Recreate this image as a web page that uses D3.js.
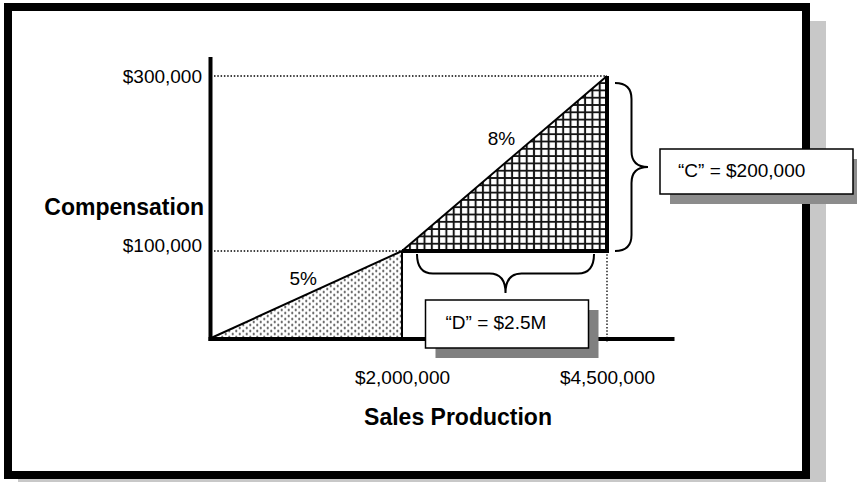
<!DOCTYPE html>
<html>
<head>
<meta charset="utf-8">
<script src="https://cdn.jsdelivr.net/npm/d3@7"></script>
<style>
  body { margin: 0; background: #fff; }
  svg { display: block; }
  text { font-family: "Liberation Sans", Arial, Helvetica, sans-serif; fill: #000; }
</style>
</head>
<body>
<svg id="chart" width="857" height="482"></svg>
<script>
// данные: уровни комиссии
const tierStarts = [0, 2000000];
const tierEnds = [2000000, 4500000];
const compAtStart = [0, 100000];
const compAtEnd = [100000, 300000];
const tierLabels = ["5%", "8%"];

const salesTicks = [2000000, 4500000];
const compTicks = [100000, 300000];
const annotations = ["\u201CC\u201D = $200,000", "\u201CD\u201D = $2.5M"];

const svg = d3.select("#chart");

// рамка с тенью
svg.append("rect").attr("x", 18).attr("y", 21).attr("width", 808).attr("height", 474)
   .attr("fill", "#c8c8c8");
svg.append("rect").attr("x", 8).attr("y", 7).attr("width", 798).attr("height", 468)
   .attr("fill", "#fff").attr("stroke", "#000").attr("stroke-width", 8);

// шкалы (ось X нелинейная, как на схеме)
const x = d3.scaleLinear()
    .domain([0, 2000000, 4500000, 5300000])
    .range([210, 402, 607, 672]);
const y = d3.scaleLinear()
    .domain([0, 320000])
    .range([338.5, 58.5]);

// узоры заливки
const defs = svg.append("defs");
const dots = defs.append("pattern").attr("id", "dots")
    .attr("width", 7).attr("height", 6).attr("patternUnits", "userSpaceOnUse")
    .attr("x", x(0)).attr("y", y(0));
dots.append("rect").attr("width", 7).attr("height", 6).attr("fill", "#fff");
dots.append("circle").attr("cx", 1.75).attr("cy", 1.5).attr("r", 1.1).attr("fill", "#333");
dots.append("circle").attr("cx", 5.25).attr("cy", 4.5).attr("r", 1.1).attr("fill", "#333");

const g = 7.3;
const grid = defs.append("pattern").attr("id", "grid")
    .attr("width", g).attr("height", g).attr("patternUnits", "userSpaceOnUse")
    .attr("x", x(4500000)).attr("y", y(100000));
grid.append("rect").attr("width", g).attr("height", g).attr("fill", "#fff");
grid.append("path").attr("d", `M0,0H${g}M0,0V${g}M0,${g}H${g}M${g},0V${g}`)
    .attr("stroke", "#151515").attr("stroke-width", 2);

// пунктирные линии
const dotted = svg.append("g").attr("stroke", "#000").attr("stroke-width", 1.3)
    .attr("stroke-dasharray", "1.5,1.8").attr("fill", "none");
compTicks.forEach((c, i) => {
    dotted.append("line")
        .attr("x1", x(0) + 4).attr("x2", x(tierEnds[i]))
        .attr("y1", y(c)).attr("y2", y(c));
});
dotted.append("line")
    .attr("x1", x(4500000)).attr("x2", x(4500000))
    .attr("y1", y(100000)).attr("y2", y(0) + 4);

// треугольники уровней
tierStarts.forEach((s, i) => {
    const p0 = [x(s), y(compAtStart[i])];
    const p1 = [x(tierEnds[i]), y(compAtEnd[i])];
    const p2 = [x(tierEnds[i]), y(compAtStart[i])];
    svg.append("path")
        .attr("d", `M${p0}L${p1}L${p2}Z`)
        .attr("fill", i === 0 ? "url(#dots)" : "url(#grid)");
    svg.append("line").attr("x1", p0[0]).attr("y1", p0[1]).attr("x2", p1[0]).attr("y2", p1[1])
        .attr("stroke", "#000").attr("stroke-width", 2);
    svg.append("line").attr("x1", p1[0]).attr("y1", p1[1]).attr("x2", p2[0]).attr("y2", p2[1] + (i === 0 ? 0 : 2))
        .attr("stroke", "#000").attr("stroke-width", i === 0 ? 2 : 4);
    if (i > 0) {
        svg.append("line").attr("x1", p0[0]).attr("y1", p0[1]).attr("x2", p2[0]).attr("y2", p2[1])
            .attr("stroke", "#000").attr("stroke-width", 4);
    }
    // подпись процента
    const mx = p0[0] + (p1[0] - p0[0]) * 0.485;
    const my = p0[1] + (p1[1] - p0[1]) * 0.485;
    svg.append("text")
        .attr("x", mx).attr("y", my - (i === 0 ? 11 : 21))
        .attr("text-anchor", "middle")
        .style("font-size", "19px")
        .text(tierLabels[i]);
});

// оси
const axX = svg.append("g")
    .attr("transform", `translate(0,${y(0)})`)
    .call(d3.axisBottom(x).tickValues(salesTicks).tickSize(0).tickSizeOuter(0)
        .tickPadding(32).tickFormat(d3.format("$,")));
const axY = svg.append("g")
    .attr("transform", `translate(${x(0)},0)`)
    .call(d3.axisLeft(y).tickValues(compTicks).tickSize(0).tickSizeOuter(0)
        .tickPadding(8).tickFormat(d3.format("$,")));
[axX, axY].forEach(ax => {
    ax.select(".domain").attr("stroke", "#000").attr("stroke-width", 4).attr("stroke-linecap", "square");
    ax.selectAll("text").style("font-size", "19px")
      .style("font-family", "'Liberation Sans', Arial, Helvetica, sans-serif");
});
axY.selectAll(".tick text").attr("dy", d => d === 100000 ? "0.05em" : "0.35em");

// заголовки осей
svg.append("text")
    .attr("x", 204).attr("y", 215)
    .attr("text-anchor", "end")
    .style("font-size", "23px").style("font-weight", "bold")
    .text("Compensation");
svg.append("text")
    .attr("x", 458).attr("y", 425)
    .attr("text-anchor", "middle")
    .style("font-size", "23px").style("font-weight", "bold")
    .text("Sales Production");

// фигурные скобки
function braceV(x0, y1, y2, depth, r) {
    const xm = x0 + depth / 2, xt = x0 + depth, ym = (y1 + y2) / 2;
    return `M${x0},${y1}Q${xm},${y1} ${xm},${y1 + r}L${xm},${ym - r}Q${xm},${ym} ${xt},${ym}` +
           `Q${xm},${ym} ${xm},${ym + r}L${xm},${y2 - r}Q${xm},${y2} ${x0},${y2}`;
}
function braceH(y0, x1, x2, depth, r) {
    const ym = y0 + depth / 2, yt = y0 + depth, xm = (x1 + x2) / 2;
    return `M${x1},${y0}Q${x1},${ym} ${x1 + r},${ym}L${xm - r},${ym}Q${xm},${ym} ${xm},${yt}` +
           `Q${xm},${ym} ${xm + r},${ym}L${x2 - r},${ym}Q${x2},${ym} ${x2},${y0}`;
}
const cx0 = x(4500000) + 8;
svg.append("path")
    .attr("d", braceV(cx0, y(300000) + 7, y(100000), 33, 16))
    .attr("fill", "none").attr("stroke", "#000").attr("stroke-width", 2);
const dy0 = y(100000) + 3;
svg.append("path")
    .attr("d", braceH(dy0, x(2000000) + 15, x(4500000) - 13, 39, 16))
    .attr("fill", "none").attr("stroke", "#000").attr("stroke-width", 2);

// поля с подписями
function box(bx, by, w, h, shade, label, tx, ty) {
    svg.append("rect").attr("x", bx + 10).attr("y", by + 10).attr("width", w).attr("height", h)
        .attr("fill", shade);
    svg.append("rect").attr("x", bx).attr("y", by).attr("width", w).attr("height", h)
        .attr("fill", "#fff").attr("stroke", "#000").attr("stroke-width", 1.5);
    svg.append("text").attr("x", bx + tx).attr("y", by + ty)
        .style("font-size", "19px").text(label);
}
const cTipY = (y(300000) + 7 + y(100000)) / 2;
box(cx0 + 45, cTipY - 18, 193, 45, "#8c8c8c", annotations[0], 18, 28);
const dTipX = (x(2000000) + 15 + x(4500000) - 13) / 2;
box(dTipX - 80, dy0 + 46, 163, 48, "#808080", annotations[1], 20, 29);
</script>
</body>
</html>
